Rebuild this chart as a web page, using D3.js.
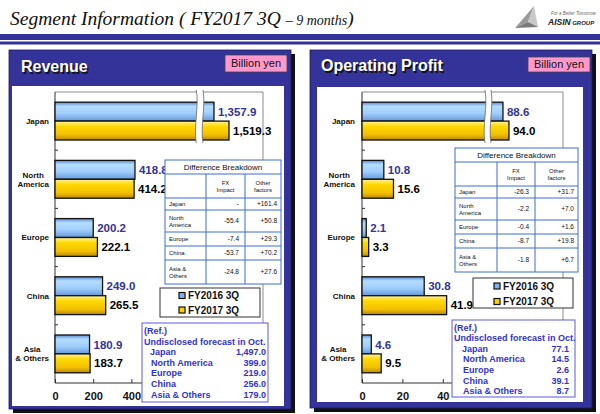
<!DOCTYPE html>
<html><head><meta charset="utf-8">
<script src="https://cdn.jsdelivr.net/npm/d3@7"></script>
<style>body{margin:0;background:#fff}svg{display:block}</style>
</head><body>
<svg id="c" width="600" height="414"></svg>
<script>
// ---------------- data ----------------
const categories = ["Japan", "North America", "Europe", "China", "Asia & Others"];
const categoryLines = [["Japan"], ["North", "America"], ["Europe"], ["China"], ["Asia", "& Others"]];
const seriesNames = ["FY2016 3Q", "FY2017 3Q"];
const revenue2016 = [1357.9, 418.8, 200.2, 249.0, 180.9];
const revenue2017 = [1519.3, 414.2, 222.1, 265.5, 183.7];
const profit2016 = [88.6, 10.8, 2.1, 30.8, 4.6];
const profit2017 = [94.0, 15.6, 3.3, 41.9, 9.5];
const revenueTicks = [0, 200, 400];
const profitTicks = [0, 20, 40];
const tableRowLabels = [["Japan"], ["North", "America"], ["Europe"], ["China"], ["Asia &", "Others"]];
const revenueFx = ["-", "-55.4", "-7.4", "-53.7", "-24.8"];
const revenueOther = ["+161.4", "+50.8", "+29.3", "+70.2", "+27.6"];
const profitFx = ["-26.3", "-2.2", "-0.4", "-8.7", "-1.8"];
const profitOther = ["+31.7", "+7.0", "+1.6", "+19.8", "+6.7"];
const forecastNames = ["Japan", "North America", "Europe", "China", "Asia & Others"];
const revenueForecast = [1497.0, 399.0, 219.0, 256.0, 179.0];
const profitForecast = [77.1, 14.5, 2.6, 39.1, 8.7];

// ---------------- setup ----------------
const svg = d3.select("#c");
const defs = svg.append("defs");
function grad(id, stops) {
  const g = defs.append("linearGradient").attr("id", id).attr("x1", 0).attr("y1", 0).attr("x2", 0).attr("y2", 1);
  stops.forEach(s => g.append("stop").attr("offset", s[0]).attr("stop-color", s[1]));
}
grad("gBlue", [[0, "#5a8cd2"], [0.22, "#b4dcff"], [0.6, "#a0cefc"], [1, "#6598da"]]);
grad("gYellow", [[0, "#fff2a0"], [0.28, "#ffd900"], [0.72, "#f2c000"], [1, "#b98800"]]);
const seriesFill = ["url(#gBlue)", "url(#gYellow)"];
const seriesMarker = ["#7fb4ee", "#ffd000"];
const labelColor = ["#333399", "#000"];
const fmt = d3.format(",.1f");
const SANS = "Arial, 'Liberation Sans', sans-serif";

// ---------------- header ----------------
const title = svg.append("text").attr("x", 10).attr("y", 25)
  .attr("font-family", "'Liberation Serif', 'Times New Roman', serif").attr("font-style", "italic")
  .attr("font-size", 19.5).attr("fill", "#111");
title.append("tspan").text("Segment Information ( FY2017 3Q ");
title.append("tspan").attr("font-size", 14).text("– 9 months");
title.append("tspan").text(")");
svg.append("rect").attr("x", 0).attr("y", 34).attr("width", 600).attr("height", 6).attr("fill", "#333399");
svg.append("rect").attr("x", 0).attr("y", 41.5).attr("width", 600).attr("height", 3).attr("fill", "#333399");
// logo
const logo = svg.append("g");
logo.append("path").attr("d", "M515,28 L534,6 L528,22 Z").attr("fill", "#9a9a9a");
logo.append("path").attr("d", "M534,6 L538,27 L528,22 Z").attr("fill", "#c8c8c8");
logo.append("path").attr("d", "M515,28 L528,22 L538,27 Z").attr("fill", "#7a7a7a");
logo.append("text").attr("x", 551).attr("y", 15).attr("font-family", SANS).attr("font-size", 4.5)
  .attr("font-style", "italic").attr("fill", "#666").text("For a Better Tomorrow");
const lt = logo.append("text").attr("x", 548).attr("y", 25).attr("font-family", SANS).attr("font-style", "italic")
  .attr("font-weight", "bold").attr("fill", "#222");
lt.append("tspan").attr("font-size", 8.5).text("AISIN");
lt.append("tspan").attr("font-size", 6).attr("dx", 1.5).text("GROUP");

// ---------------- panels ----------------
const panels = [
  {
    title: "Revenue", titleX: 21, titleY: 72,
    outer: [9, 50, 291, 409], inner: [12, 86, 284, 406], unit: [225, 55, 287, 72],
    plot: [55, 92, 263, 383], labelRight: 49,
    domain: [0, 740, 1240, 1600], range: [55, 196.3, 203, 236.5],
    s: [revenue2016, revenue2017], ticks: revenueTicks,
    table: { x: [165, 206, 245, 281], y: 160, fx: revenueFx, other: revenueOther },
    legend: { x: 160, y: 288, w: 100, h: 29, mx: 182, rows: [295.5, 310] },
    ref: { x: 142, y: 323, w: 126, h: 79, tx: 144, nx: 150, vx: 266, rows: [331, 341.5, 352, 362.5, 373, 384, 394.5], vals: revenueForecast }
  },
  {
    title: "Operating Profit", titleX: 321, titleY: 71,
    outer: [310, 50, 592, 408], inner: [317, 87, 583, 402], unit: [528, 57, 590, 72],
    plot: [362, 92, 563, 383], labelRight: 355,
    domain: [0, 60.9, 77.8, 100], range: [362, 485, 491, 515.6],
    s: [profit2016, profit2017], ticks: profitTicks,
    table: { x: [455, 497, 535, 578], y: 148, fx: profitFx, other: profitOther },
    legend: { x: 473, y: 278, w: 100, h: 30, mx: 497, rows: [286, 301.5] },
    ref: { x: 452, y: 320, w: 123, h: 77, tx: 454, nx: 462, vx: 569, rows: [327.5, 338, 348.5, 359, 369.5, 380.5, 391], vals: profitForecast }
  }
];

function drawPanel(p) {
  const g = svg.append("g");
  const [ox0, oy0, ox1, oy1] = p.outer;
  g.append("rect").attr("x", ox0 + 4).attr("y", oy0 + 4).attr("width", ox1 - ox0).attr("height", oy1 - oy0).attr("fill", "#111");
  g.append("rect").attr("x", ox0).attr("y", oy0).attr("width", ox1 - ox0).attr("height", oy1 - oy0)
    .attr("fill", "#333399").attr("stroke", "#1c1c5c").attr("stroke-width", 0.8);
  const [ix0, iy0, ix1, iy1] = p.inner;
  g.append("rect").attr("x", ix0).attr("y", iy0).attr("width", ix1 - ix0).attr("height", iy1 - iy0).attr("fill", "#fff");

  // panel title with shadow
  [["#111", 1.5], ["#fff", 0]].forEach(([c, o]) => {
    g.append("text").attr("x", p.titleX + o).attr("y", p.titleY + o).attr("font-family", SANS)
      .attr("font-weight", "bold").attr("font-size", 16).attr("fill", c).text(p.title);
  });
  // unit box
  const [ux0, uy0, ux1, uy1] = p.unit;
  g.append("rect").attr("x", ux0).attr("y", uy0).attr("width", ux1 - ux0).attr("height", uy1 - uy0)
    .attr("fill", "#ff99cc").attr("stroke", "#444").attr("stroke-width", 0.8);
  g.append("text").attr("x", (ux0 + ux1) / 2).attr("y", (uy0 + uy1) / 2).attr("dy", "0.36em")
    .attr("text-anchor", "middle").attr("font-family", SANS).attr("font-size", 11).attr("fill", "#111").text("Billion yen");

  // scales
  const x = d3.scaleLinear().domain(p.domain).range(p.range);
  const y = d3.scaleBand().domain(categories).range([p.plot[1], p.plot[3]]).paddingInner(0.35).paddingOuter(0.175);
  const ys = d3.scaleBand().domain(seriesNames).range([0, y.bandwidth()]);

  // frame (top & right) and axes lines
  g.append("path").attr("d", `M${p.plot[0]},${p.plot[1]}H${p.plot[2]}V${p.plot[3]}`)
    .attr("fill", "none").attr("stroke", "#8c8c8c").attr("stroke-width", 1);
  g.append("line").attr("x1", p.plot[0]).attr("x2", p.plot[0]).attr("y1", p.plot[1]).attr("y2", p.plot[3])
    .attr("stroke", "#333").attr("stroke-width", 1);
  g.append("line").attr("x1", p.plot[0]).attr("x2", p.plot[2]).attr("y1", p.plot[3]).attr("y2", p.plot[3])
    .attr("stroke", "#333").attr("stroke-width", 1);
  // category boundary ticks
  categories.slice(1).forEach(c => {
    const yy = y(c) - y.paddingInner() * y.step() / 2;
    g.append("line").attr("x1", p.plot[0]).attr("x2", p.plot[0] + 3).attr("y1", yy).attr("y2", yy).attr("stroke", "#333");
  });

  // bars
  const barData = [];
  categories.forEach((c, i) => seriesNames.forEach((s, k) => barData.push({ c, s, k, v: p.s[k][i] })));
  g.append("g").selectAll("rect").data(barData).join("rect")
    .attr("x", x(0)).attr("y", d => y(d.c) + ys(d.s)).attr("width", d => x(d.v) - x(0)).attr("height", ys.bandwidth())
    .attr("fill", d => seriesFill[d.k]).attr("stroke", "#111").attr("stroke-width", 1.3);

  // axis break across the first category
  const bx1 = x(p.domain[1]), bx2 = x(p.domain[2]);
  const byt = p.plot[1] - 2, byb = y(categories[0]) + y.bandwidth() + 3;
  const hh = byb - byt;
  g.append("path")
    .attr("d", `M${bx1},${byt} C${bx1 + 3},${byt + hh * 0.3} ${bx1 - 3},${byt + hh * 0.7} ${bx1},${byb} L${bx2},${byb} C${bx2 - 3},${byt + hh * 0.7} ${bx2 + 3},${byt + hh * 0.3} ${bx2},${byt} Z`)
    .attr("fill", "#fff");
  [bx1, bx2].forEach(bx => {
    g.append("path").attr("d", `M${bx},${byt} C${bx + 3},${byt + hh * 0.3} ${bx - 3},${byt + hh * 0.7} ${bx},${byb}`)
      .attr("fill", "none").attr("stroke", "#666").attr("stroke-width", 0.8);
  });

  // value labels
  g.append("g").selectAll("text").data(barData).join("text")
    .attr("x", d => x(d.v) + 4).attr("y", d => y(d.c) + ys(d.s) + ys.bandwidth() / 2).attr("dy", "0.36em")
    .attr("font-family", SANS).attr("font-weight", "bold").attr("font-size", 11.5)
    .attr("fill", d => labelColor[d.k]).text(d => fmt(d.v));

  // category labels: block right-aligned, lines centered
  categories.forEach((c, i) => {
    const lines = categoryLines[i];
    const cy = y(c) + y.bandwidth() / 2;
    const texts = lines.map((ln, j) => g.append("text")
      .attr("y", cy + (j - (lines.length - 1) / 2) * 9).attr("dy", "0.36em").attr("text-anchor", "middle")
      .attr("font-family", SANS).attr("font-weight", "bold").attr("font-size", 8).attr("fill", "#111").text(ln));
    const maxW = d3.max(texts, t => t.node().getComputedTextLength());
    texts.forEach(t => t.attr("x", p.labelRight - maxW / 2));
  });

  // bottom axis labels
  const ax = g.append("g").attr("transform", `translate(0,${p.plot[3]})`)
    .call(d3.axisBottom(x).tickValues(p.ticks).tickSizeInner(-4).tickSizeOuter(0).tickPadding(9).tickFormat(d3.format("d")));
  ax.select(".domain").remove();
  ax.selectAll("line").attr("stroke", "#333");
  ax.selectAll("text").attr("font-family", SANS).attr("font-weight", "bold").attr("font-size", 11).attr("fill", "#111");

  // difference breakdown table
  const t = p.table;
  const rh = [14, 24, 12, 22, 14, 14, 24];
  const ry = [t.y]; rh.forEach(h => ry.push(ry[ry.length - 1] + h));
  const tg = g.append("g");
  tg.append("rect").attr("x", t.x[0]).attr("y", ry[0]).attr("width", t.x[3] - t.x[0]).attr("height", ry[7] - ry[0])
    .attr("fill", "#fff").attr("stroke", "#3d6fcc").attr("stroke-width", 1);
  for (let r = 1; r < 7; r++) tg.append("line").attr("x1", t.x[0]).attr("x2", t.x[3]).attr("y1", ry[r]).attr("y2", ry[r]).attr("stroke", "#3d6fcc");
  [1, 2].forEach(cI => tg.append("line").attr("x1", t.x[cI]).attr("x2", t.x[cI]).attr("y1", ry[1]).attr("y2", ry[7]).attr("stroke", "#3d6fcc"));
  tg.append("text").attr("x", (t.x[0] + t.x[3]) / 2).attr("y", (ry[0] + ry[1]) / 2).attr("dy", "0.36em")
    .attr("text-anchor", "middle").attr("font-family", SANS).attr("font-size", 8).attr("fill", "#111").text("Difference Breakdown");
  [[["FX", "Impact"], 1], [["Other", "factors"], 2]].forEach(([ls, cI]) => {
    ls.forEach((ln, j) => tg.append("text").attr("x", (t.x[cI] + t.x[cI + 1]) / 2).attr("y", (ry[1] + ry[2]) / 2 + (j - 0.5) * 7)
      .attr("dy", "0.36em").attr("text-anchor", "middle").attr("font-family", SANS).attr("font-size", 6).attr("fill", "#111").text(ln));
  });
  tableRowLabels.forEach((ls, i) => {
    const cy = (ry[i + 2] + ry[i + 3]) / 2;
    ls.forEach((ln, j) => tg.append("text").attr("x", t.x[0] + 4).attr("y", cy + (j - (ls.length - 1) / 2) * 7)
      .attr("dy", "0.36em").attr("font-family", SANS).attr("font-size", 6).attr("fill", "#111").text(ln));
    tg.append("text").attr("x", t.x[2] - 6).attr("y", cy).attr("dy", "0.36em").attr("text-anchor", "end")
      .attr("font-family", SANS).attr("font-size", 6.5).attr("fill", "#111").text(t.fx[i]);
    tg.append("text").attr("x", t.x[3] - 4).attr("y", cy).attr("dy", "0.36em").attr("text-anchor", "end")
      .attr("font-family", SANS).attr("font-size", 6.5).attr("fill", "#111").text(t.other[i]);
  });

  // legend
  const L = p.legend;
  g.append("rect").attr("x", L.x).attr("y", L.y).attr("width", L.w).attr("height", L.h)
    .attr("fill", "#fff").attr("stroke", "#333").attr("stroke-width", 1);
  seriesNames.forEach((s, k) => {
    g.append("rect").attr("x", L.mx - 3).attr("y", L.rows[k] - 3).attr("width", 6).attr("height", 6)
      .attr("fill", seriesMarker[k]).attr("stroke", "#111").attr("stroke-width", 1.2);
    g.append("text").attr("x", L.mx + 6).attr("y", L.rows[k]).attr("dy", "0.36em").attr("font-family", SANS)
      .attr("font-weight", "bold").attr("font-size", 10).attr("fill", "#111").text(s);
  });

  // reference box
  const R = p.ref;
  g.append("rect").attr("x", R.x).attr("y", R.y).attr("width", R.w).attr("height", R.h)
    .attr("fill", "#fff").attr("stroke", "#5b5bdd").attr("stroke-width", 1);
  const refText = (xx, yy, s, anchor) => g.append("text").attr("x", xx).attr("y", yy).attr("dy", "0.36em")
    .attr("text-anchor", anchor || "start").attr("font-family", SANS).attr("font-weight", "bold")
    .attr("font-size", 9).attr("fill", "#3333cc").text(s);
  refText(R.tx, R.rows[0], "(Ref.)");
  refText(R.tx, R.rows[1], "Undisclosed forecast in Oct.");
  forecastNames.forEach((n, i) => {
    refText(R.nx + (i === 0 ? 0 : 1), R.rows[i + 2], n);
    refText(R.vx, R.rows[i + 2], fmt(R.vals[i]), "end");
  });
}
panels.forEach(drawPanel);
</script>
</body></html>
